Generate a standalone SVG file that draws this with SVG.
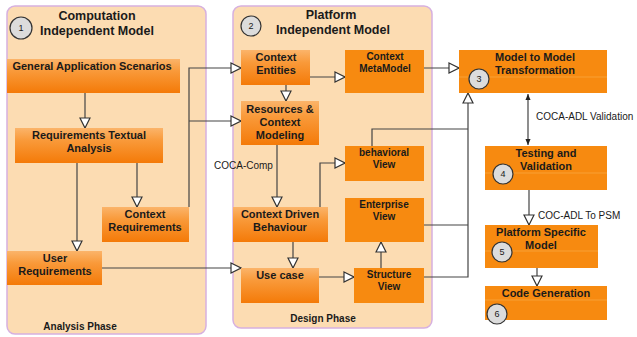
<svg xmlns="http://www.w3.org/2000/svg" width="637" height="337" viewBox="0 0 637 337">
<defs>
<linearGradient id="og" x1="0" y1="0" x2="0" y2="1">
<stop offset="0" stop-color="#fbb46a"/>
<stop offset="0.35" stop-color="#f99a3a"/>
<stop offset="1" stop-color="#f47a08"/>
</linearGradient>
<marker id="open" viewBox="0 0 12 12" refX="11" refY="6" markerWidth="12" markerHeight="12" markerUnits="userSpaceOnUse" orient="auto">
<path d="M1,1 L11,6 L1,11 Z" fill="#fff" stroke="#333" stroke-width="1.2"/>
</marker>
<marker id="solid" viewBox="0 0 8 8" refX="7" refY="4" markerWidth="7" markerHeight="7" markerUnits="userSpaceOnUse" orient="auto-start-reverse">
<path d="M0,1 L7,4 L0,7 Z" fill="#222"/>
</marker>
<style>
.panel{fill:#fcdcb2;stroke:#d6b0e0;stroke-width:1.5}
.g{fill:url(#og)}
.f{fill:#f78a10}
.div{stroke:#f9a640;stroke-width:0.8}
text{font-family:"Liberation Sans","DejaVu Sans",sans-serif;fill:#1a1a1a}
.t{font-size:11px;font-weight:bold;text-anchor:middle}
.s{font-size:10px;font-weight:bold;text-anchor:middle}
.h{font-size:12.5px;font-weight:bold;text-anchor:middle}
.lab{font-size:10px}
.ph{font-size:10px;font-weight:bold;text-anchor:middle}
.num{fill:#dcdcdc;stroke:#333;stroke-width:1.2}
.nt{font-size:9px;text-anchor:middle}
.c{fill:none;stroke:#444;stroke-width:1.2}
</style>
</defs>

<g id="panel-cim">
<rect class="panel" x="7" y="6" width="199" height="328" rx="8"/>
<circle class="num" cx="21" cy="28" r="11"/>
<text class="nt" x="21" y="31">1</text>
<text class="h" x="97" y="20">Computation</text>
<text class="h" x="97" y="35">Independent Model</text>
<text class="ph" x="80" y="330">Analysis Phase</text>
</g>

<g id="panel-pim">
<rect class="panel" x="233" y="6" width="199" height="322" rx="8"/>
<circle class="num" cx="251" cy="26" r="10"/>
<text class="nt" x="251" y="29">2</text>
<text class="h" x="331" y="19">Platform</text>
<text class="h" x="333" y="34">Independent Model</text>
<text class="ph" x="323" y="322">Design Phase</text>
</g>

<g id="connectors">
<path class="c" d="M85,93 V128" marker-end="url(#open)"/>
<path class="c" d="M137,163 V207" marker-end="url(#open)"/>
<path class="c" d="M77,163 V251" marker-end="url(#open)"/>
<path class="c" d="M189,207 V68 H241" marker-end="url(#open)"/>
<path class="c" d="M189,121 H241" marker-end="url(#open)"/>
<path class="c" d="M102,268 H241" marker-end="url(#open)"/>
<path class="c" d="M310,77 H345" marker-end="url(#open)"/>
<path class="c" d="M286,85 V101" marker-end="url(#open)"/>
<path class="c" d="M277,145 V207" marker-end="url(#open)"/>
<path class="c" d="M320,207 V163 H345" marker-end="url(#open)"/>
<path class="c" d="M293,242 V268" marker-end="url(#open)"/>
<path class="c" d="M319,277 H354" marker-end="url(#open)"/>
<path class="c" d="M381,268 V242" marker-end="url(#open)"/>
<path class="c" d="M424,277 H468 V93" marker-end="url(#open)"/>
<path class="c" d="M424,225 H468"/>
<path class="c" d="M372,146 V129 H468"/>
<path class="c" d="M424,68 H459" marker-end="url(#open)"/>
<path class="c" d="M528,94 V145" marker-start="url(#solid)" marker-end="url(#solid)"/>
<path class="c" d="M529,190 V225" marker-end="url(#open)"/>
<path class="c" d="M537,268 V286" marker-end="url(#open)"/>
<text class="lab" x="214" y="169">COCA-Comp</text>
<text class="lab" x="536" y="120">COCA-ADL Validation</text>
<text class="lab" x="538" y="219">COC-ADL To PSM</text>
</g>

<g id="general-application-scenarios">
<rect class="g" x="7" y="59" width="173" height="34"/>
<text class="t" x="92" y="70">General Application Scenarios</text>
</g>
<g id="requirements-textual-analysis">
<rect class="g" x="15" y="128" width="148" height="35"/>
<text class="t" x="89" y="139">Requirements Textual</text>
<text class="t" x="89" y="152">Analysis</text>
</g>
<g id="context-requirements">
<rect class="g" x="102" y="207" width="87" height="35"/>
<text class="t" x="145" y="218">Context</text>
<text class="t" x="145" y="231">Requirements</text>
</g>
<g id="user-requirements">
<rect class="g" x="7" y="251" width="95" height="34"/>
<text class="t" x="55" y="262">User</text>
<text class="t" x="55" y="275">Requirements</text>
</g>

<g id="context-entities">
<rect class="g" x="241" y="50" width="69" height="35"/>
<text class="t" x="276" y="61">Context</text>
<text class="t" x="276" y="74">Entities</text>
</g>
<g id="context-metamodel">
<rect class="f" x="345" y="50" width="79" height="43"/>
<text class="s" x="385" y="60">Context</text>
<text class="s" x="385" y="72">MetaModel</text>
</g>
<g id="resources-context-modeling">
<rect class="g" x="241" y="101" width="78" height="44"/>
<text class="t" x="280" y="113">Resources &amp;</text>
<text class="t" x="280" y="126">Context</text>
<text class="t" x="280" y="139">Modeling</text>
</g>
<g id="behavioral-view">
<rect class="f" x="345" y="146" width="79" height="35"/>
<text class="s" x="384" y="156">behavioral</text>
<text class="s" x="384" y="168">View</text>
</g>
<g id="enterprise-view">
<rect class="f" x="345" y="198" width="79" height="44"/>
<text class="s" x="384" y="208">Enterprise</text>
<text class="s" x="384" y="220">View</text>
</g>
<g id="context-driven-behaviour">
<rect class="g" x="233" y="207" width="95" height="35"/>
<text class="t" x="280" y="218">Context Driven</text>
<text class="t" x="280" y="231">Behaviour</text>
</g>
<g id="use-case">
<rect class="g" x="241" y="268" width="78" height="35"/>
<text class="t" x="280" y="279">Use case</text>
</g>
<g id="structure-view">
<rect class="f" x="354" y="268" width="70" height="35"/>
<text class="s" x="389" y="278">Structure</text>
<text class="s" x="389" y="290">View</text>
</g>

<g id="model-to-model">
<rect class="f" x="459" y="50" width="148" height="43"/>
<line class="div" x1="459" y1="77" x2="607" y2="77"/>
<text class="t" x="535" y="61">Model to Model</text>
<text class="t" x="535" y="74">Transformation</text>
<circle class="num" cx="479" cy="79" r="10"/>
<text class="nt" x="479" y="82">3</text>
</g>
<g id="testing-validation">
<rect class="f" x="485" y="146" width="122" height="44"/>
<line class="div" x1="485" y1="173" x2="607" y2="173"/>
<text class="t" x="546" y="157">Testing and</text>
<text class="t" x="546" y="170">Validation</text>
<circle class="num" cx="503" cy="174" r="10"/>
<text class="nt" x="503" y="177">4</text>
</g>
<g id="platform-specific-model">
<rect class="f" x="485" y="225" width="113" height="43"/>
<line class="div" x1="485" y1="251" x2="598" y2="251"/>
<text class="t" x="541" y="236">Platform Specific</text>
<text class="t" x="541" y="249">Model</text>
<circle class="num" cx="502" cy="252" r="10"/>
<text class="nt" x="502" y="255">5</text>
</g>
<g id="code-generation">
<rect class="f" x="485" y="286" width="122" height="34"/>
<line class="div" x1="485" y1="300" x2="607" y2="300"/>
<text class="t" x="546" y="297">Code Generation</text>
<circle class="num" cx="497" cy="314" r="10"/>
<text class="nt" x="497" y="317">6</text>
</g>
</svg>
